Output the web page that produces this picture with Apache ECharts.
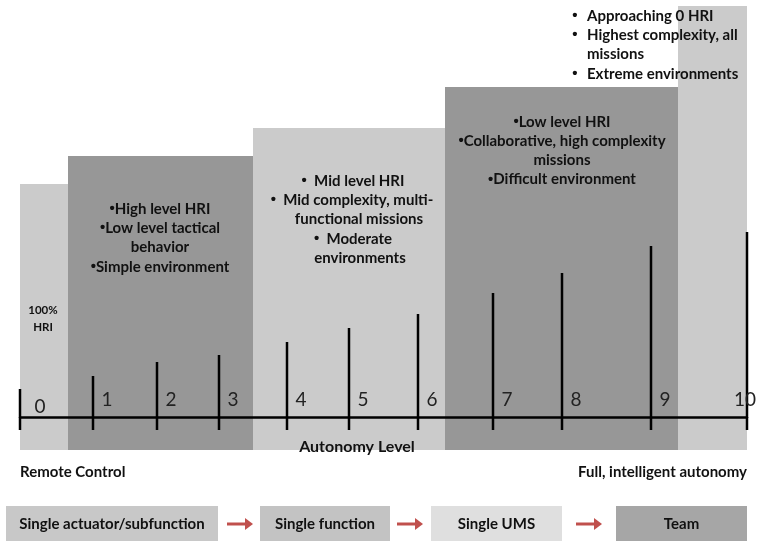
<!DOCTYPE html>
<html><head><meta charset="utf-8">
<script src="https://cdn.jsdelivr.net/npm/echarts@6/dist/echarts.min.js"></script>
<style>html,body{margin:0;padding:0;background:#fff}#c{width:761px;height:545px}</style>
</head><body><div id="c"></div>
<script>
// ---- data (units along axis / height above the axis line) ----
const levelLabels = ['0','1','2','3','4','5','6','7','8','9','10'];
const levelPositions = [0, 73, 137, 199, 267, 329, 398, 473, 542, 631, 727];
const levelHeights = [28, 41, 55, 62, 75, 89, 103, 124, 144, 171, 185];
const blockStart = [0, 48, 233, 425, 658];
const blockEnd = [48, 233, 425, 658, 727];
const blockTop = [233, 261, 289, 330, 411];
const blockShade = ['light', 'dark', 'light', 'dark', 'light'];
const block1Text = ['\u2022High level HRI', '\u2022Low level tactical', 'behavior', '\u2022Simple environment'];
const block2Text = ['\u2022  Mid level HRI', '\u2022  Mid complexity, multi-', 'functional missions', '\u2022  Moderate', 'environments'];
const block3Text = ['\u2022Low level HRI', '\u2022Collaborative, high complexity', 'missions', '\u2022Difficult environment'];
const block4Text = ['Approaching 0 HRI', 'Highest complexity, all', 'missions', 'Extreme environments'];
const block4Bullets = [true, true, false, true];
const stageLabels = ['Single actuator/subfunction', 'Single function', 'Single UMS', 'Team'];

const AXIS_MIN = -33, AXIS_MAX = 411, TICK_BOTTOM = -13;
const shadeColor = {light: '#cbcbcb', dark: '#979797'};
const FONT = 'Lato, "Open Sans", sans-serif';
const BOLD = (s) => 'bold ' + s + 'px ' + FONT;
const BULLET_RICH = {b: {fontFamily: '"Liberation Sans", sans-serif', fontWeight: 'bold', fontSize: 15, fill: '#111'},
                     t: {fontFamily: FONT, fontWeight: 'bold', fontSize: 15, fill: '#111'}};

const chart = echarts.init(document.getElementById('c'), null, {renderer: 'canvas'});

const blockData = blockStart.map((s, i) => [s, blockEnd[i], blockTop[i], i]);
const tickData = levelPositions.map((p, i) => [p, levelHeights[i], i]);

const graphics = [];
function richBullet(t) {
  if (t.charAt(0) === '\u2022') return '{b|\u2022}{t|' + t.slice(1) + '}';
  return '{t|' + t + '}';
}
function addLine(t, x, y, align) {
  graphics.push({type: 'text', z: 100, style: {text: richBullet(t), rich: BULLET_RICH, x: x, y: y,
    align: align || 'center', verticalAlign: 'middle', font: BOLD(15), fill: '#111'}});
}
block1Text.forEach((t, i) => addLine(t, 160, 209 + i * 19.3));
const b2x = [353, 352, 359, 353, 360];
block2Text.forEach((t, i) => addLine(t, b2x[i], 181 + i * 19.3));
block3Text.forEach((t, i) => addLine(t, 562, 122 + i * 19.2));
block4Text.forEach((t, i) => {
  const y = 16 + i * 19.3;
  if (block4Bullets[i]) addLine('\u2022', 575, y);
  addLine(t, 587, y, 'left');
});
['100%', 'HRI'].forEach((t, i) => graphics.push({type:'text', z:100, style:{text: t, x: 43, y: 310 + i * 17, align:'center', verticalAlign:'middle', font: BOLD(11.5), fill:'#111'}}));
graphics.push({type:'text', z:100, style:{text:'Autonomy Level', x: 357, y: 447, align:'center', verticalAlign:'middle', font: BOLD(16), fill:'#111'}});
graphics.push({type:'text', z:100, style:{text:'Remote Control', x: 20, y: 472, align:'left', verticalAlign:'middle', font: BOLD(15), fill:'#111'}});
graphics.push({type:'text', z:100, style:{text:'Full, intelligent autonomy', x: 747, y: 472, align:'right', verticalAlign:'middle', font: BOLD(15), fill:'#111'}});

// flow boxes
const boxX = [6, 260, 431, 616], boxW = [212, 130, 131, 131], boxFill = ['#c8c8c8', '#c3c3c3', '#dfdfdf', '#a6a6a6'];
stageLabels.forEach((t, i) => {
  graphics.push({type:'rect', z: 90, shape:{x: boxX[i], y: 506, width: boxW[i], height: 35}, style:{fill: boxFill[i]}});
  graphics.push({type:'text', z:100, style:{text: t, x: boxX[i] + boxW[i] / 2, y: 524, align:'center', verticalAlign:'middle', font: BOLD(15), fill:'#111'}});
});
[[227, 253], [397, 423], [576, 602]].forEach(([a, b]) => {
  graphics.push({type:'line', z: 95, shape:{x1: a, y1: 524, x2: b - 5, y2: 524}, style:{stroke:'#c0504d', lineWidth: 3}});
  graphics.push({type:'polygon', z: 95, shape:{points: [[b - 8, 518], [b, 524], [b - 8, 530]]}, style:{fill:'#c0504d'}});
});

chart.setOption({
  animation: false,
  grid: {left: 20, right: 14, top: 6, bottom: 95},
  xAxis: {type: 'value', min: 0, max: 727, z: 10,
    axisLine: {show: true, onZero: true, lineStyle: {color: '#000', width: 2.5}},
    axisTick: {show: false}, axisLabel: {show: false}, splitLine: {show: false}},
  yAxis: {type: 'value', min: AXIS_MIN, max: AXIS_MAX, show: false, splitLine: {show: false}},
  series: [
    {type: 'custom', z: 1, data: blockData, silent: true,
      renderItem: (params, api) => {
        const p0 = api.coord([api.value(0), api.value(2)]);
        const p1 = api.coord([api.value(1), AXIS_MIN]);
        return {type: 'rect', shape: {x: p0[0], y: p0[1], width: p1[0] - p0[0], height: p1[1] - p0[1]},
          style: {fill: shadeColor[blockShade[api.value(3)]]}};
      }},
    {type: 'custom', z: 20, data: tickData, silent: true,
      renderItem: (params, api) => {
        const i = api.value(2);
        const top = api.coord([api.value(0), api.value(1)]);
        const bot = api.coord([api.value(0), TICK_BOTTOM]);
        const base = api.coord([api.value(0), 0]);
        const last = i === levelLabels.length - 1;
        const dx = i === 0 ? 20 : (last ? -2 : 14);
        const dy = i === 0 ? -10 : -17;
        return {type: 'group', children: [
          {type: 'line', shape: {x1: top[0], y1: top[1], x2: bot[0], y2: bot[1]}, style: {stroke: '#000', lineWidth: 2.5}},
          {type: 'text', style: {text: levelLabels[i], x: base[0] + dx, y: base[1] + dy, align: 'center', verticalAlign: 'middle',
            font: '19px ' + FONT, fill: '#222'}}
        ]};
      }}
  ],
  graphic: graphics
});
</script></body></html>
